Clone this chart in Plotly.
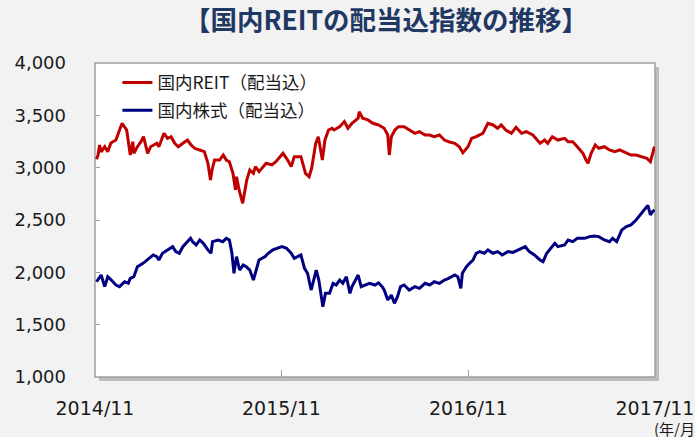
import plotly.graph_objects as go

reit_dates = [
    "2014-11-04","2014-11-07","2014-11-10","2014-11-13","2014-11-20","2014-11-26","2014-12-02","2014-12-12",
    "2014-12-19","2014-12-24","2015-01-02","2015-01-06","2015-01-09","2015-01-14","2015-01-16","2015-01-23",
    "2015-01-30","2015-02-04","2015-02-09","2015-02-12","2015-02-18","2015-03-02","2015-03-06","2015-03-16",
    "2015-03-23","2015-03-30","2015-04-06","2015-04-13","2015-04-22","2015-05-01","2015-05-08","2015-05-15",
    "2015-05-25","2015-06-03","2015-06-10","2015-06-15","2015-06-18","2015-06-23","2015-07-03","2015-07-10",
    "2015-07-16","2015-07-22","2015-07-29","2015-08-03","2015-08-05","2015-08-10","2015-08-17","2015-08-21",
    "2015-08-25","2015-08-31","2015-09-07","2015-09-11","2015-09-18","2015-10-02","2015-10-13","2015-10-21",
    "2015-11-04","2015-11-13","2015-11-20","2015-11-26","2015-12-09","2015-12-18","2015-12-25","2015-12-30",
    "2016-01-07","2016-01-12","2016-01-15","2016-01-20","2016-01-25","2016-02-01","2016-02-08","2016-02-12",
    "2016-02-23","2016-03-03","2016-03-10","2016-03-18","2016-03-30","2016-04-01","2016-04-08","2016-04-18",
    "2016-04-28","2016-05-09","2016-05-20","2016-05-27","2016-05-30","2016-06-03","2016-06-10","2016-06-17",
    "2016-06-28","2016-07-08","2016-07-19","2016-07-28","2016-08-08","2016-08-17","2016-08-26","2016-09-05",
    "2016-09-15","2016-09-23","2016-10-05","2016-10-14","2016-10-21","2016-10-31","2016-11-07","2016-11-16",
    "2016-11-29","2016-12-09","2016-12-19","2016-12-28","2017-01-04","2017-01-13","2017-01-24","2017-02-02",
    "2017-02-13","2017-02-22","2017-03-07","2017-03-21","2017-03-30","2017-04-05","2017-04-14","2017-04-25",
    "2017-05-08","2017-05-15","2017-05-24","2017-06-02","2017-06-13","2017-06-19","2017-06-23","2017-06-29",
    "2017-07-07","2017-07-14","2017-07-25","2017-08-04","2017-08-14","2017-08-24","2017-09-06","2017-09-15",
    "2017-09-25","2017-10-05","2017-10-16","2017-10-23","2017-10-27","2017-10-31",
]
reit_values = [
    3080,3121,3217,3150,3200,3153,3236,3264,
    3360,3424,3360,3236,3121,3248,3137,3200,
    3248,3296,3200,3137,3200,3233,3200,3328,
    3280,3296,3233,3200,3233,3264,3217,3185,
    3169,3153,3042,2882,2978,3073,3073,3121,
    3073,3057,2946,2787,2914,2787,2660,2787,
    2882,2978,2946,3010,2962,3042,3026,3057,
    3137,3073,3010,3105,3105,2946,2914,2994,
    3233,3296,3200,3073,3264,3360,3376,3360,
    3392,3440,3376,3424,3472,3535,3472,3456,
    3424,3408,3376,3312,3121,3296,3360,3392,
    3392,3360,3328,3344,3312,3312,3296,3312,
    3264,3248,3233,3200,3143,3200,3280,3296,
    3328,3424,3408,3376,3408,3360,3328,3385,
    3328,3344,3312,3233,3264,3233,3296,3264,
    3280,3248,3248,3200,3137,3073,3042,3137,
    3217,3185,3200,3169,3153,3169,3137,3121,
    3121,3105,3089,3057,3121,3200,
]

stock_dates = [
    "2014-11-04","2014-11-10","2014-11-13","2014-11-20","2014-11-26","2014-12-03","2014-12-12","2014-12-19",
    "2014-12-29","2015-01-05","2015-01-09","2015-01-16","2015-01-23","2015-02-03","2015-02-12","2015-02-23",
    "2015-03-02","2015-03-06","2015-03-13","2015-03-23","2015-04-02","2015-04-08","2015-04-15","2015-04-22",
    "2015-04-28","2015-05-07","2015-05-11","2015-05-18","2015-05-25","2015-06-01","2015-06-10","2015-06-16",
    "2015-06-19","2015-06-30","2015-07-09","2015-07-16","2015-07-22","2015-07-27","2015-07-31","2015-08-05",
    "2015-08-11","2015-08-18","2015-08-24","2015-08-31","2015-09-07","2015-09-14","2015-09-18","2015-09-30",
    "2015-10-06","2015-10-15","2015-10-26","2015-11-02","2015-11-11","2015-11-20","2015-11-26","2015-12-03",
    "2015-12-09","2015-12-16","2015-12-22","2015-12-29","2016-01-05","2016-01-08","2016-01-13","2016-01-18",
    "2016-01-21","2016-01-26","2016-02-03","2016-02-10","2016-02-16","2016-02-23","2016-02-29","2016-03-07",
    "2016-03-14","2016-03-18","2016-03-30","2016-04-05","2016-04-12","2016-04-21","2016-05-02","2016-05-09",
    "2016-05-16","2016-05-20","2016-05-27","2016-06-03","2016-06-09","2016-06-15","2016-06-21","2016-06-28",
    "2016-07-08","2016-07-19","2016-07-28","2016-08-08","2016-08-17","2016-08-26","2016-09-05","2016-09-15",
    "2016-09-23","2016-10-05","2016-10-11","2016-10-17","2016-10-20","2016-10-28","2016-11-03","2016-11-10",
    "2016-11-16","2016-11-23","2016-12-02","2016-12-09","2016-12-19","2016-12-28","2017-01-06","2017-01-17",
    "2017-01-27","2017-02-06","2017-02-20","2017-02-28","2017-03-10","2017-03-21","2017-03-27","2017-04-03",
    "2017-04-12","2017-04-19","2017-04-25","2017-05-08","2017-05-15","2017-05-24","2017-06-02","2017-06-16",
    "2017-06-26","2017-07-05","2017-07-14","2017-07-25","2017-08-04","2017-08-10","2017-08-18","2017-08-28",
    "2017-09-06","2017-09-15","2017-09-25","2017-10-05","2017-10-11","2017-10-18","2017-10-23","2017-10-27",
    "2017-10-31",
]
stock_values = [
    1910,1958,1974,1863,1958,1926,1879,1863,
    1910,1895,1942,1958,2054,2086,2118,2166,
    2150,2118,2182,2214,2245,2198,2182,2245,
    2277,2325,2293,2261,2309,2277,2214,2182,
    2293,2309,2293,2325,2309,2182,1991,2150,
    2022,2070,2054,2022,1926,2054,2118,2150,
    2182,2214,2230,2245,2230,2182,2134,2150,
    2166,2038,1991,1831,1958,2022,1926,1767,
    1672,1799,1799,1895,1879,1926,1895,1958,
    1799,1863,1974,1863,1879,1895,1879,1900,
    1863,1831,1736,1783,1704,1767,1863,1879,
    1831,1863,1847,1895,1879,1910,1895,1926,
    1942,1974,1958,1847,1991,2054,2086,2118,
    2182,2198,2182,2214,2182,2198,2166,2198,
    2190,2214,2245,2198,2166,2118,2102,2182,
    2230,2277,2245,2261,2309,2293,2325,2325,
    2341,2348,2341,2309,2293,2325,2293,2405,
    2437,2453,2500,2564,2596,2640,2548,2580,
    2596,
]

y_ticks = [1000, 1500, 2000, 2500, 3000, 3500, 4000]
y_tick_labels = ["1,000", "1,500", "2,000", "2,500", "3,000", "3,500", "4,000"]
series_names = ["国内REIT（配当込）", "国内株式（配当込）"]
title_text = "【国内REITの配当込指数の推移】"

fig = go.Figure()
fig.add_trace(go.Scatter(x=reit_dates, y=reit_values, mode="lines", name=series_names[0],
                         legendgroup="a", line=dict(color="#c00000", width=3)))
fig.add_trace(go.Scatter(x=stock_dates, y=stock_values, mode="lines", name=series_names[1],
                         legendgroup="b", line=dict(color="#000080", width=3)))

W, H = 695, 437
L, R, T, B = 95, 40, 63, 60
pw, ph = W - L - R, H - T - B

fig.update_layout(
    width=W, height=H,
    margin=dict(l=L, r=R, t=T, b=B, autoexpand=False),
    paper_bgcolor="#f2f2f2",
    plot_bgcolor="rgba(0,0,0,0)",
    title=dict(text="<b>" + title_text + "</b>", x=386 / W, xanchor="center",
               y=1 - 21 / H, yanchor="middle", automargin=False,
               font=dict(family="Noto Sans CJK JP", size=26.5, color="#1f3864")),
    showlegend=True,
    legend=dict(x=0.04, y=0.995, xanchor="left", yanchor="top", bgcolor="rgba(0,0,0,0)",
                font=dict(family="Noto Sans CJK JP", size=17.5, color="#1a1a1a"),
                traceorder="grouped", tracegroupgap=2),
    shapes=[
        dict(type="rect", xref="paper", yref="paper", x0=4 / pw, x1=1 + 4 / pw, y0=-4 / ph, y1=1 - 4 / ph,
             fillcolor="#bdbdbd", line=dict(width=0), layer="below"),
        dict(type="rect", xref="paper", yref="paper", x0=0, x1=1, y0=0, y1=1,
             fillcolor="white", line=dict(color="#a0a0a0", width=1.5), layer="below"),
    ],
)
fig.update_xaxes(range=["2014-11-01", "2017-11-01"], tick0="2014-11-01", dtick="M12",
                 tickformat="%Y/%m", ticks="inside", ticklen=7, tickcolor="#a0a0a0",
                 showgrid=False, zeroline=False, showline=False, ticklabelstandoff=18,
                 automargin=False,
                 tickfont=dict(family="DejaVu Sans", size=19, color="#1a1a1a"))
fig.update_yaxes(range=[1000, 4000], tickvals=y_ticks, ticktext=y_tick_labels,
                 ticks="inside", ticklen=5, tickcolor="#a0a0a0",
                 showgrid=False, zeroline=False, showline=False, ticklabelstandoff=28,
                 automargin=False,
                 tickfont=dict(family="DejaVu Sans", size=18, color="#1a1a1a"))
fig.add_annotation(text="(年/月)", xref="paper", yref="paper", x=(652 - L) / pw, y=-(428 - (T + ph)) / ph,
                   xanchor="left", yanchor="middle", showarrow=False,
                   font=dict(family="Noto Sans CJK JP", size=15, color="#1a1a1a"))

fig.write_html("out.html", config={"displayModeBar": False})

with open("out.html", "r", encoding="utf-8") as f:
    html = f.read()
html = html.replace("<head>", "<head><style>html,body{margin:0;padding:0;background:#f2f2f2;overflow:hidden;}</style>", 1)
with open("out.html", "w", encoding="utf-8") as f:
    f.write(html)
